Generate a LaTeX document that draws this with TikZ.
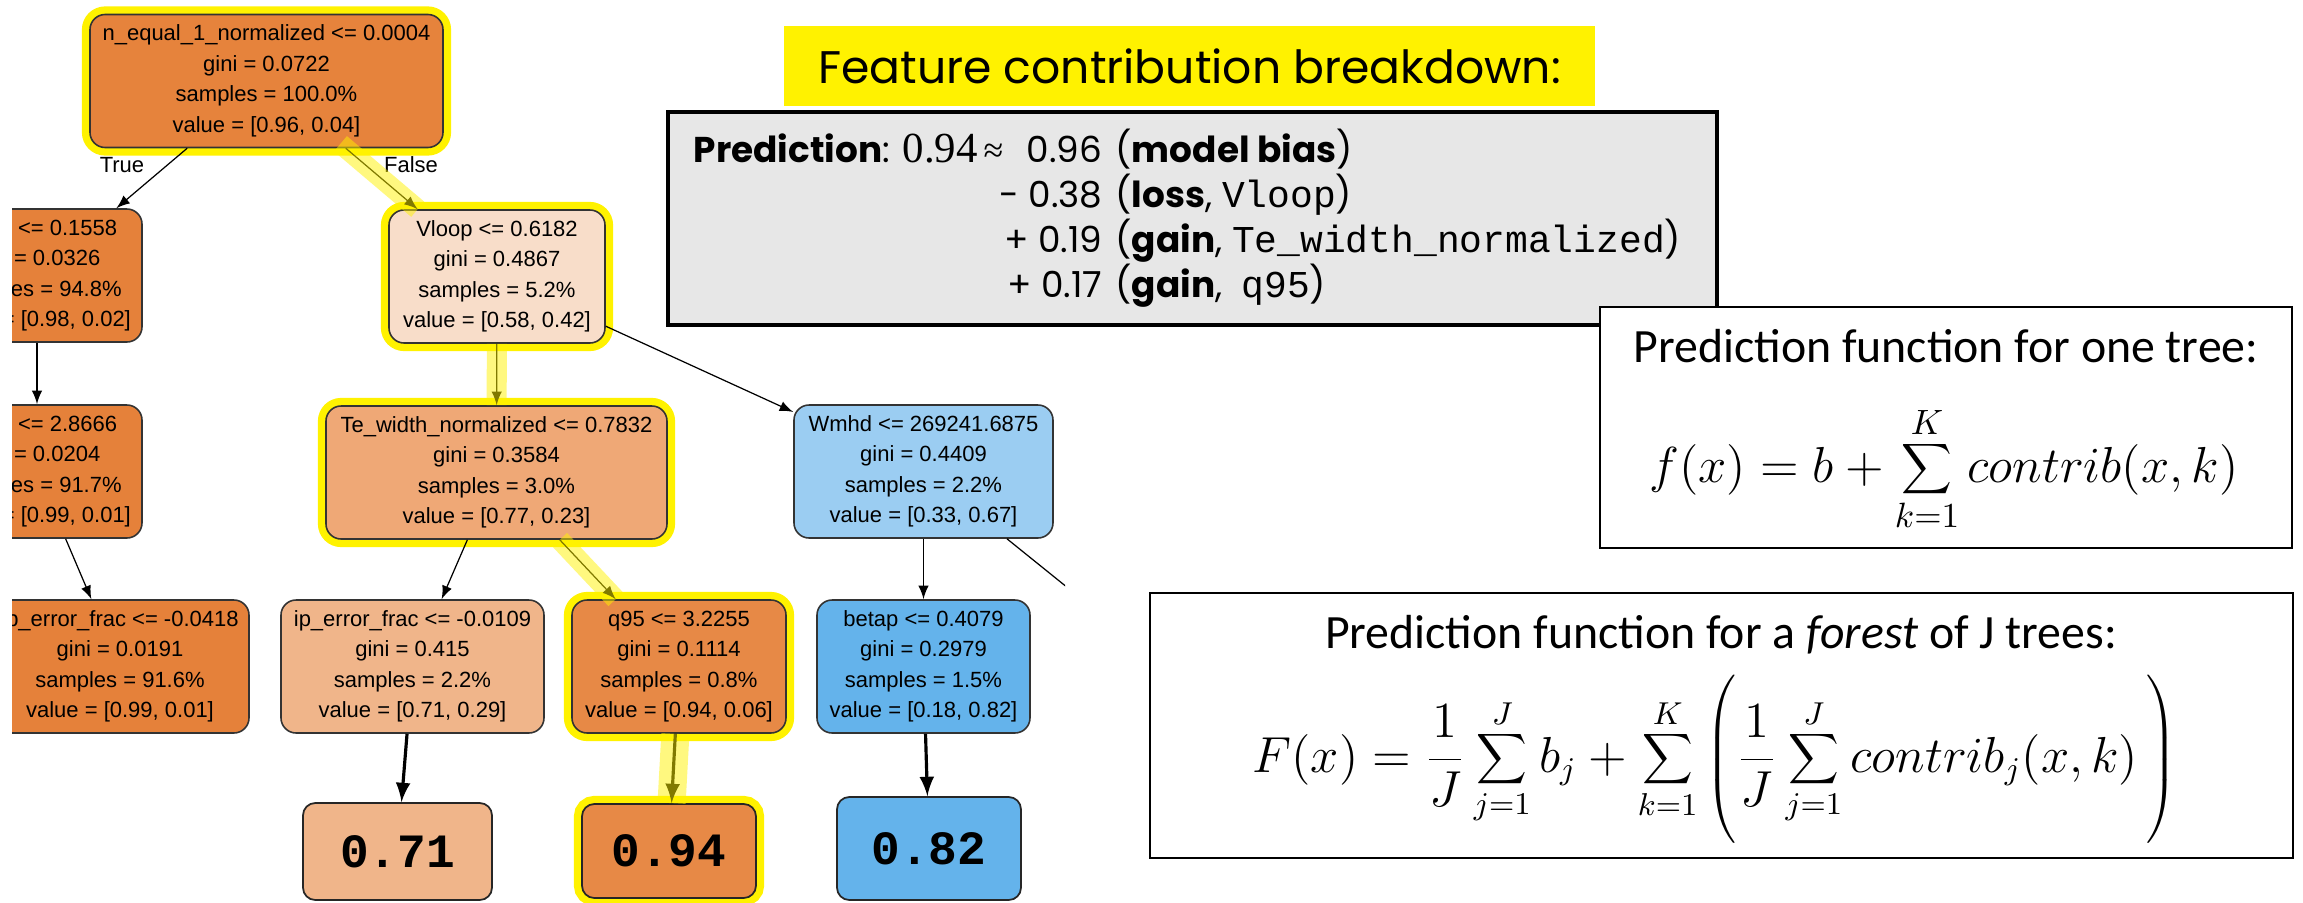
\documentclass[tikz,border=0pt]{standalone}
\usepackage[no-math]{fontspec}
\setmainfont{Liberation Sans}
\setmonofont{Liberation Mono}
\newfontfamily\gothic{Poppins}
\newfontfamily\calibri{Carlito}
\newfontfamily\timesf{Liberation Serif}
\usetikzlibrary{arrows}

\definecolor{rootc}{HTML}{E6833C}
\definecolor{deepc}{HTML}{E5813A}
\definecolor{vloopc}{HTML}{F8DDC9}
\definecolor{tec}{HTML}{EFA876}
\definecolor{ipc}{HTML}{F0B58A}
\definecolor{qc}{HTML}{E78946}
\definecolor{wmc}{HTML}{9BCDF2}
\definecolor{betc}{HTML}{64B3EB}
\definecolor{brkgray}{HTML}{E7E7E7}

\newcommand\codeword[1]{{\ttfamily\fontsize{10.8}{12}\selectfont #1}}

\begin{document}
\begin{tikzpicture}[x=0.1mm,y=-0.1mm,
  split/.style={draw=black!80,line width=0.45pt,rounded corners=4.3pt,align=center,inner sep=0pt,minimum height=13.3mm,font=\fontsize{6.26}{8.68}\selectfont},
  leaf/.style={draw=black!85,line width=0.5pt,rounded corners=3.5pt,inner sep=0pt,font=\fontsize{13.6}{15}\selectfont\ttfamily\bfseries},
  hl/.style={preaction={draw=yellow,line width=4.6pt}},
  tedge/.style={-latex,line width=0.35pt},
  ledge/.style={-latex,line width=0.9pt},
  band/.style={draw=yellow,opacity=0.5,line width=5.7pt},
  lbl/.style={font=\fontsize{6.26}{8.68}\selectfont,inner sep=0pt},
  brk/.style={font=\gothic\fontsize{10.2}{12}\selectfont,inner sep=0pt},
  ctitle/.style={font=\calibri\fontsize{13.6}{16}\selectfont,inner sep=0pt},
  fbox/.style={draw,fill=white,line width=0.6pt,inner sep=0pt}]

  \useasboundingbox[fill=white] (0,0) rectangle (2303,902);

  \begin{scope}
  \clip (12,0) rectangle (1065,902);

  \node[split,fill=rootc,hl,minimum width=35.3mm] (root) at (266.5,81) {n\_equal\_1\_normalized <= 0.0004\\gini = 0.0722\\samples = 100.0\%\\value = [0.96, 0.04]};
  \node[split,fill=deepc,minimum width=21mm] (lft1) at (37,275.5) {\phantom{betap }<= 0.1558\\gini = 0.0326\\samples = 94.8\%\\value = [0.98, 0.02]};
  \node[split,fill=deepc,minimum width=21mm] (lft2) at (37,471.5) {\phantom{betap }<= 2.8666\\gini = 0.0204\\samples = 91.7\%\\value = [0.99, 0.01]};
  \node[split,fill=deepc,minimum width=25.8mm] (lft3) at (120,666.5) {ip\_error\_frac <= -0.0418\\gini = 0.0191\\samples = 91.6\%\\value = [0.99, 0.01]};

  \node[split,fill=vloopc,hl,minimum width=21.6mm] (vloop) at (497,276.5) {Vloop <= 0.6182\\gini = 0.4867\\samples = 5.2\%\\value = [0.58, 0.42]};
  \node[split,fill=tec,hl,minimum width=34.1mm] (tew) at (496.5,472.5) {Te\_width\_normalized <= 0.7832\\gini = 0.3584\\samples = 3.0\%\\value = [0.77, 0.23]};
  \node[split,fill=wmc,minimum width=25.9mm] (wmhd) at (923.5,471.5) {Wmhd <= 269241.6875\\gini = 0.4409\\samples = 2.2\%\\value = [0.33, 0.67]};

  \node[split,fill=ipc,minimum width=26.3mm] (ipe) at (412.5,666.5) {ip\_error\_frac <= -0.0109\\gini = 0.415\\samples = 2.2\%\\value = [0.71, 0.29]};
  \node[split,fill=qc,hl,minimum width=21.4mm] (q95) at (679,666.5) {q95 <= 3.2255\\gini = 0.1114\\samples = 0.8\%\\value = [0.94, 0.06]};
  \node[split,fill=betc,minimum width=21.3mm] (betap) at (923.5,666.5) {betap <= 0.4079\\gini = 0.2979\\samples = 1.5\%\\value = [0.18, 0.82]};

  \node[leaf,fill=ipc,minimum width=18.9mm,minimum height=9.7mm] (lf71) at (397.5,851.5) {0.71};
  \node[leaf,fill=qc,hl,minimum width=17.4mm,minimum height=9.4mm] (lf94) at (669,851) {0.94};
  \node[leaf,fill=betc,minimum width=18.4mm,minimum height=10.3mm] (lf82) at (929,848.5) {0.82};

  \node[lbl] (true) at (122,165) {True};
  \node[lbl] (false) at (411,165) {False};
  \coordinate (wcut) at (1068,588);

  \draw[tedge] (root) -- (lft1);
  \draw[tedge] (root) -- (vloop);
  \draw[tedge] (lft1) -- (lft2);
  \draw[tedge] (lft2) -- (lft3);
  \draw[tedge] (vloop) -- (tew);
  \draw[tedge] (vloop) -- (wmhd);
  \draw[tedge] (tew) -- (ipe);
  \draw[tedge] (tew) -- (q95);
  \draw[tedge] (wmhd) -- (betap);
  \draw[line width=0.35pt] (wmhd) -- (wcut);

  \draw[ledge] (ipe) -- (lf71);
  \draw[ledge] (q95) -- (lf94);
  \draw[ledge] (betap) -- (lf82);

  \draw[band,shorten <=-2pt] (root) -- (vloop);
  \draw[band] (vloop) -- (tew);
  \draw[band] (tew) -- (q95);
  \draw[band,line width=8pt] (q95) -- (lf94);
  \end{scope}

  \node[fill=yellow,inner sep=0pt,minimum width=81.1mm,minimum height=8mm,font=\gothic\fontsize{13}{15}\selectfont] (ttl) at (1189.5,66) {Feature contribution breakdown:};

  \node[draw,fill=brkgray,line width=1.4pt,minimum width=104.9mm,minimum height=21.3mm] (brkbox) at (1192.5,218.5) {};
  \node[brk,anchor=base west] (pred) at (693,162) {\textbf{Prediction}: {\timesf\fontsize{12.2}{14}\selectfont 0.94}{\timesf\,≈}};
  \node[brk,anchor=base east] (n1) at (1103,162) {0.96};
  \node[brk,anchor=base west] (t1) at (1115,162) {(\textbf{model bias})};
  \node[brk,anchor=base east] (n2) at (1103,207) {- 0.38};
  \node[brk,anchor=base west] (t2) at (1115,207) {(\textbf{loss}, \codeword{Vloop})};
  \node[brk,anchor=base east] (n3) at (1103,252) {+ 0.19};
  \node[brk,anchor=base west] (t3) at (1115,252) {(\textbf{gain}, \codeword{Te\_width\_normalized})};
  \node[brk,anchor=base east] (n4) at (1103,297) {+ 0.17};
  \node[brk,anchor=base west] (t4) at (1115,297) {(\textbf{gain},\ \ \codeword{q95})};

  \node[fbox,minimum width=69.2mm,minimum height=24.1mm] (onebox) at (1946,427.5) {};
  \node[ctitle,anchor=base] (onettl) at (1946,362) {Prediction function for one tree:};
  \node[anchor=base,inner sep=0pt,font=\fontsize{14}{16}\selectfont] (onefx) at (1944,482) {$\displaystyle f(x) = b + \sum_{k=1}^{K} contrib(x,k)$};

  \node[fbox,minimum width=114.3mm,minimum height=26.5mm] (forbox) at (1721.5,725.5) {};
  \node[ctitle,anchor=base] (forttl) at (1721,648) {Prediction function for a \textit{forest} of J trees:};
  \node[anchor=base,inner sep=0pt,font=\fontsize{13.5}{16}\selectfont] (forfx) at (1715,772) {$\displaystyle F(x) = \frac{1}{J}\sum_{j=1}^{J} b_j + \sum_{k=1}^{K}\left(\vrule height 29pt depth 20pt width 0pt\frac{1}{J}\sum_{j=1}^{J} contrib_j(x,k)\,\right)$};

\end{tikzpicture}
\end{document}
